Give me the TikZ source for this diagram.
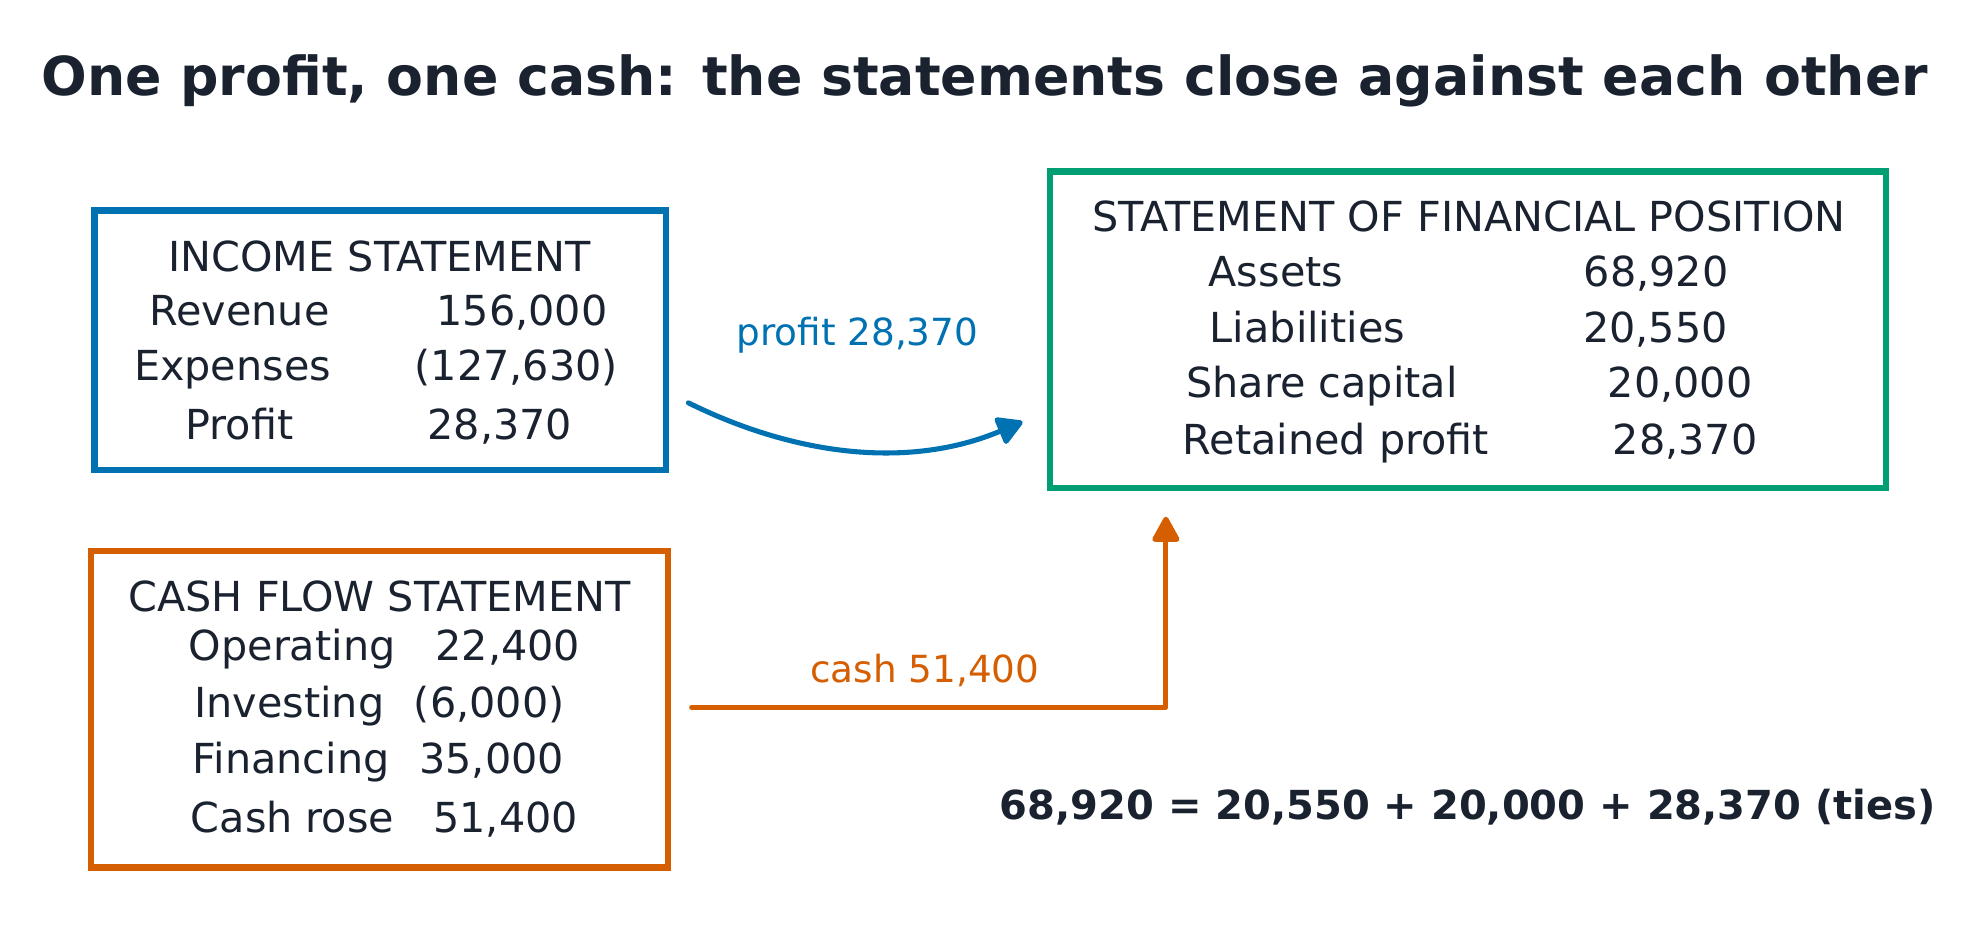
\documentclass[tikz,border=0pt]{standalone}
\usepackage{fontspec}
\setmainfont{DejaVu Sans}
\usetikzlibrary{arrows.meta}
\definecolor{inkc}{HTML}{1A2230}
\definecolor{bluec}{HTML}{0072B2}
\definecolor{greenc}{HTML}{009E73}
\definecolor{orangec}{HTML}{D55E00}
\begin{document}
\begin{tikzpicture}[x=0.9456pt,y=-0.9456pt,
  txt/.style={inner sep=0pt, text height=22.6pt, text depth=0pt, anchor=center, text=inkc, font=\fontsize{31}{36}\selectfont},
  ttl/.style={inner sep=0pt, text height=29.4pt, text depth=0pt, anchor=center, text=inkc, font=\fontsize{40.3}{46}\selectfont\bfseries},
  eqn/.style={inner sep=0pt, text height=21.9pt, text depth=0pt, anchor=center, text=inkc, font=\fontsize{30}{36}\selectfont\bfseries},
  lbl/.style={inner sep=0pt, text height=20.4pt, text depth=0pt, anchor=center, font=\fontsize{28}{34}\selectfont},
  panel/.style={draw, line width=4.6pt, inner sep=0pt, anchor=center, fill=none},
  conn/.style={line width=3.8pt, line cap=round, line join=round},
]
\fill[white] (0,0) rectangle (1568,738);
\useasboundingbox (0,0) rectangle (1568,738);

\node[ttl] (title) at (781,60) {One profit, one cash: the statements close against each other};

% Income statement
\node[panel, draw=bluec, minimum width=428.4pt, minimum height=194.8pt] (inbox) at (301.5,270) {};
\node[txt] (inhead) at (301,203.6) {INCOME STATEMENT};
\node[txt] (rev) at (190,246.3) {Revenue};
\node[txt] (revv) at (414,246.3) {156,000};
\node[txt] (exp) at (184.5,290) {Expenses};
\node[txt] (expv) at (409.5,290) {(127,630)};
\node[txt] (pro) at (190,336.4) {Profit};
\node[txt] (prov) at (396.5,336.4) {28,370};

% Financial position
\node[panel, draw=greenc, minimum width=626.9pt, minimum height=237.3pt] (finbox) at (1164.5,261.5) {};
\node[txt] (finhead) at (1165,171.7) {STATEMENT OF FINANCIAL POSITION};
\node[txt] (ass) at (1012,215.2) {Assets};
\node[txt] (assv) at (1313.5,215.2) {68,920};
\node[txt] (lia) at (1037,260) {Liabilities};
\node[txt] (liav) at (1313,260) {20,550};
\node[txt] (sha) at (1048.5,303.5) {Share capital};
\node[txt] (shav) at (1332.5,303.5) {20,000};
\node[txt] (ret) at (1059.5,348.4) {Retained profit};
\node[txt] (retv) at (1336.5,348.4) {28,370};

% Cash flow
\node[panel, draw=orangec, minimum width=433.1pt, minimum height=237.3pt] (cashbox) at (301,562.5) {};
\node[txt] (cashhead) at (301,472.7) {CASH FLOW STATEMENT};
\node[txt] (ope) at (231.7,512) {Operating};
\node[txt] (opev) at (402.8,512) {22,400};
\node[txt] (inv) at (229.5,557) {Investing};
\node[txt] (invv) at (388,557) {(6,000)};
\node[txt] (fin) at (231,601.9) {Financing};
\node[txt] (finv) at (390,601.9) {35,000};
\node[txt] (cr) at (232,648.1) {Cash rose};
\node[txt] (crv) at (401,648.1) {51,400};

% profit arrow
\coordinate (pa) at (546,319.5);
\coordinate (pb) at (811,334.5);
\draw[conn, bluec, -{Triangle[length=21pt,width=23pt,round]}] (pa) .. controls (632,362) and (722,372) .. (pb);
\node[lbl, text=bluec] (plbl) at (680,263) {profit 28,370};

% cash arrow
\coordinate (ca) at (548.6,561);
\coordinate (ct) at (924.7,409.8);
\draw[conn, orangec, -{Triangle[length=21pt,width=22pt,round]}] (ca) -| (ct);
\node[lbl, text=orangec] (clbl) at (733.6,530.6) {cash 51,400};

\node[eqn] (eq) at (1164,638) {68,920 = 20,550 + 20,000 + 28,370 (ties)};
\end{tikzpicture}
\end{document}
